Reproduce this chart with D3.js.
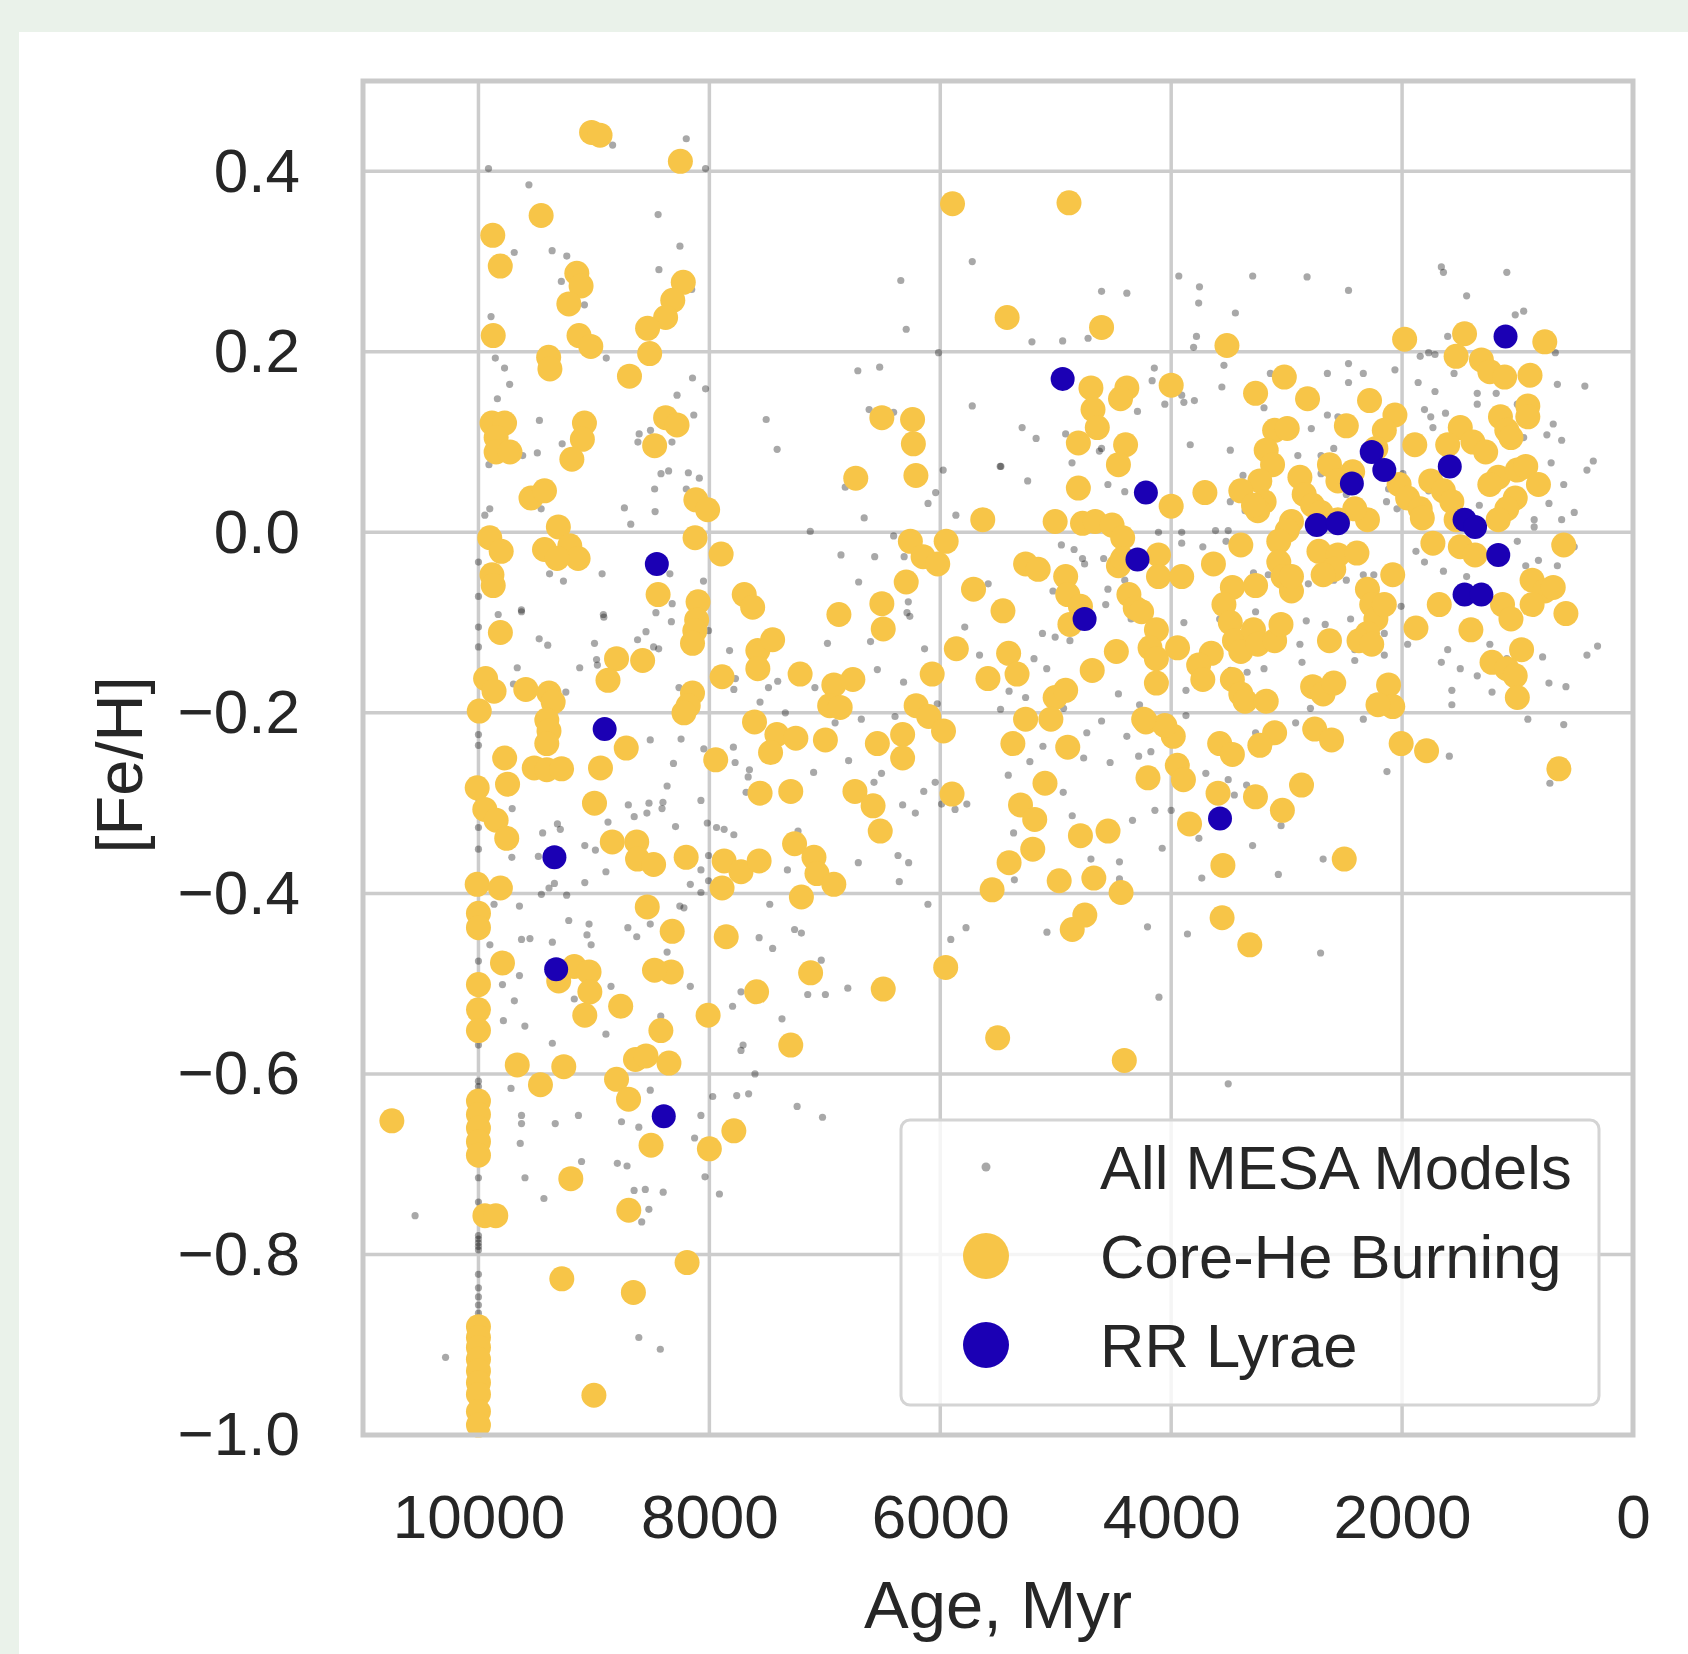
<!DOCTYPE html>
<html>
<head>
<meta charset="utf-8">
<script src="https://cdn.jsdelivr.net/npm/d3@7/dist/d3.min.js"></script>
<style>
  html, body { margin: 0; padding: 0; background: #eaf2ea; }
  #chart svg { display: block; }
  text { font-family: "Liberation Sans", Arial, Helvetica, sans-serif; fill: #262626; }
</style>
</head>
<body>
<div id="chart"></div>
<script>
// [age (Myr), [Fe/H]]
var mesaModels = [
  [9913,0.403],[8033,0.403],[8838,0.429],[8200,0.436],[9563,0.385],[8444,0.352],[8255,0.317],[8437,0.291],
  [9690,0.310],[9362,0.312],[9235,0.306],[9282,0.278],[9082,0.252],[9891,0.239],[8153,0.269],
  [9854,0.193],[9774,0.182],[9730,0.164],[9836,0.148],[8893,0.193],[8146,0.171],[8033,0.159],[8280,0.152],[8135,0.130],
  [9472,0.124],[9275,0.098],[9490,0.088],[9617,0.085],[9909,0.075],[8608,0.109],[8510,0.113],[8619,0.100],[8324,0.100],
  [8419,0.065],[8353,0.068],[8182,0.066],[8087,0.060],[8474,0.048],[8200,0.048],[8736,0.027],[8470,0.023],[8681,0.009],
  [9902,0.026],[9945,0.019],[9457,0.026],[9384,-0.046],[9264,-0.054],[8929,-0.046],[8342,-0.046],[8051,-0.054],
  [9628,-0.086],[9829,-0.091],[8918,-0.091],[8463,-0.089],[7508,0.125],[7413,0.092],[6714,0.179],[6525,0.183],
  [6616,0.136],[6404,0.133],[6342,0.279],[6295,0.225],[5723,0.300],[5723,0.140],[6015,0.199],
  [5975,0.069],[6040,0.044],[6106,0.032],[5865,0.019],[5475,0.073],[6659,0.016],[6823,0.050],[7126,0.001],
  [6860,-0.025],[6568,-0.027],[6707,-0.055],[6404,-0.004],[6313,-0.027],[6277,-0.077],[5585,-0.057],[6288,-0.089],
  [9627,-0.088],[8914,-0.094],[8322,-0.079],[8329,-0.099],[9474,-0.118],[9400,-0.125],[8995,-0.123],
  [8977,-0.141],[8970,-0.147],[9123,-0.150],[9664,-0.150],[8549,-0.110],[8622,-0.119],[8483,-0.127],[8439,-0.129],
  [8007,-0.109],[7825,-0.131],[7774,-0.162],[7788,-0.174],[6977,-0.123],[6604,-0.121],
  [6545,-0.152],[6318,-0.166],[6136,-0.129],[6264,-0.093],[5660,-0.136],[5788,-0.105],[6026,-0.190],[6392,-0.204],
  [5478,-0.196],[5404,-0.176],[9697,-0.168],[9243,-0.177],[8263,-0.172],
  [7488,-0.172],[7408,-0.165],[7561,-0.188],[7342,-0.200],[7086,-0.172],[6684,-0.207],[6911,-0.211],
  [8512,-0.230],[8245,-0.229],[8311,-0.256],[8048,-0.240],[7792,-0.238],[7777,-0.255],
  [7653,-0.263],[7664,-0.271],[7682,-0.288],[6794,-0.253],[7097,-0.266],[6509,-0.267],[6574,-0.277],
  [6143,-0.287],[6044,-0.277],[6326,-0.302],[6216,-0.311],[5989,-0.301],[5872,-0.307],[5770,-0.301],
  [8366,-0.281],[8523,-0.300],[8702,-0.302],[8878,-0.321],[8651,-0.315],[8541,-0.311],[8402,-0.299],[8410,-0.306],
  [9708,-0.306],[9444,-0.333],[9316,-0.323],[9291,-0.329],[9079,-0.347],[8987,-0.352],[8896,-0.376],
  [9711,-0.360],[9481,-0.359],[8293,-0.326],[8073,-0.297],[8018,-0.322],[7938,-0.327],[7872,-0.329],[7788,-0.335],
  [8073,-0.374],[8165,-0.390],[8073,-0.399],[8007,-0.358],[8007,-0.386],
  [7232,-0.331],[7324,-0.374],[6710,-0.366],[6366,-0.358],[6274,-0.366],[6355,-0.387],
  [9079,-0.388],[9342,-0.389],[9389,-0.394],[9455,-0.401],[9236,-0.402],[9865,-0.412],[9645,-0.414],
  [9218,-0.430],[9042,-0.434],[8706,-0.438],[8629,-0.448],[8512,-0.434],[8256,-0.414],[8220,-0.416],[8366,-0.465],
  [7477,-0.412],[7569,-0.449],[7452,-0.461],[7262,-0.440],[7203,-0.444],[6107,-0.412],[5777,-0.438],[5909,-0.451],
  [9901,-0.457],[9627,-0.451],[9554,-0.450],[9360,-0.454],[9060,-0.446],[9024,-0.457],
  [8165,-0.503],[7843,-0.455],[7031,-0.474],[7148,-0.512],[6995,-0.512],[6801,-0.505],[7726,-0.509],
  [9645,-0.491],[9792,-0.501],[9689,-0.519],[9784,-0.541],[9598,-0.547],
  [8852,-0.503],[9170,-0.517],[8896,-0.556],[9360,-0.566],[8841,-0.525],
  [8421,-0.536],[7799,-0.525],[7371,-0.539],[7708,-0.568],[7726,-0.574],
  [7605,-0.600],[7763,-0.624],[7660,-0.622],[7240,-0.636],[7020,-0.648],
  [7971,-0.625],[9718,-0.616],[9627,-0.646],[9627,-0.655],[9335,-0.655],[9134,-0.646],[8761,-0.653],[8611,-0.659],
  [8512,-0.618],[8073,-0.646],[8128,-0.671],[9638,-0.677],
  [10549,-0.757],[10285,-0.914],[9597,-0.715],[9433,-0.738],[8038,-0.714],[7913,-0.733],[8652,-0.729],[8555,-0.728],
  [8400,-0.731],[8524,-0.750],[8586,-0.764],[8611,-0.892],[8425,-0.905],[9107,-0.697],[8797,-0.699],[8713,-0.702],
  [4603,0.267],[4384,0.265],[5206,0.211],[4940,0.212],[4720,0.215],
  [3934,0.284],[3755,0.272],[3762,0.254],[3444,0.243],[3781,0.217],[3806,0.205],
  [3294,0.284],[2823,0.283],[2464,0.268],[1660,0.294],[1642,0.288],[1441,0.262],[1093,0.288],
  [1020,0.241],[947,0.245],[1605,0.217],[1715,0.197],[1770,0.199],[1843,0.195],[673,0.199],
  [4146,0.182],[4165,0.168],[3543,0.185],[3561,0.161],[3890,0.144],[3799,0.146],
  [3141,0.176],[2647,0.176],[2464,0.187],[2336,0.176],[2464,0.166],[2062,0.180],
  [1861,0.166],[1550,0.176],[1715,0.156],[1349,0.154],[1185,0.154],[1148,0.128],
  [655,0.164],[417,0.162],[691,0.120],[746,0.108],[618,0.102],[709,0.077],[344,0.079],[399,0.069],
  [1806,0.136],[1752,0.128],[1624,0.132],[1733,0.116],[1349,0.142],[1002,0.142],[947,0.105],
  [5291,0.116],[5170,0.104],[4603,0.093],[4914,0.109],[4292,0.134],[4055,0.142],[3909,0.152],
  [3835,0.097],[3488,0.091],[3196,0.138],[2786,0.115],[2647,0.130],[2556,0.128],
  [5481,0.073],[5243,0.057],[4622,0.090],[4548,0.053],[4402,0.045],[4859,0.077],
  [3378,0.063],[3488,0.034],[3360,0.024],[3141,0.038],[2903,0.085],[2702,0.085],[2592,0.093],[2702,0.065],[2483,0.042],[2373,0.073],
  [1993,0.065],[2117,0.048],[2135,0.034],[2044,0.026],[1770,0.046],[1331,0.030],[1203,0.022],[1039,0.030],
  [856,0.014],[728,0.032],[600,0.053],[618,0.014],[509,0.022],[856,0.006],
  [4110,0.000],[3909,0.000],[3616,0.002],[3506,0.002],
  [4951,-0.014],[4841,-0.019],[4768,-0.029],[4585,-0.029],[4750,-0.035],
  [5024,-0.065],[4877,-0.045],[4548,-0.063],[4402,-0.053],
  [3909,-0.012],[3726,-0.016],[3525,-0.010],[3287,-0.045],[3159,-0.047],[2922,-0.045],[2812,-0.057],
  [2592,-0.053],[2483,-0.053],[2336,-0.047],[2245,-0.047],
  [1880,-0.021],[1806,-0.033],[1642,-0.043],[1441,-0.049],[1240,-0.025],[1002,-0.010],[929,-0.037],
  [819,-0.031],[655,-0.037],[636,-0.010],[509,-0.016],
  [2008,-0.082],[2227,-0.108],[2154,-0.112],[2446,-0.096],[2830,-0.098],[3269,-0.088],[3580,-0.096],
  [3890,-0.100],[4347,-0.096],[4567,-0.080],[4750,-0.080],
  [5115,-0.112],[5005,-0.116],[4877,-0.120],[5188,-0.140],[5078,-0.151],
  [4640,-0.151],[4457,-0.179],[4274,-0.191],[3872,-0.175],[3488,-0.153],[3342,-0.155],[3196,-0.151],
  [2885,-0.124],[2867,-0.144],[2666,-0.102],
  [2410,-0.130],[2410,-0.142],[2154,-0.136],[1952,-0.124],[1605,-0.130],[1660,-0.144],[1496,-0.151],
  [1349,-0.159],[1240,-0.124],[1093,-0.140],[783,-0.138],[728,-0.167],[399,-0.136],[307,-0.126],
  [1569,-0.175],[1221,-0.177],[1569,-0.191],[911,-0.207],[600,-0.213],[581,-0.171],
  [5261,-0.183],[4932,-0.195],[4731,-0.222],[4603,-0.209],[4384,-0.226],[4183,-0.218],[3872,-0.203],
  [3269,-0.222],[2922,-0.211],[2794,-0.195],[2336,-0.207],
  [5111,-0.237],[5224,-0.254],[4758,-0.250],[4529,-0.255],[4282,-0.248],[4176,-0.243],
  [5411,-0.269],[4935,-0.288],[4857,-0.314],[4335,-0.319],[4141,-0.308],[4000,-0.308],
  [3700,-0.267],[3506,-0.274],[3453,-0.291],[3347,-0.280],
  [5365,-0.333],[4695,-0.362],[4448,-0.365],[4448,-0.384],[5358,-0.385],[4078,-0.350],[3760,-0.339],
  [3735,-0.383],[3295,-0.347],[3048,-0.325],[3072,-0.379],[2684,-0.362],
  [1591,-0.248],[2131,-0.265],[720,-0.278],
  [5076,-0.443],[4205,-0.437],[3859,-0.445],[2706,-0.466],[4106,-0.515],[3506,-0.611],
  [10000,-0.033],[10000,-0.071],[10000,-0.105],[10000,-0.127],[10000,-0.224],[10000,-0.236],[10000,-0.295],
  [10000,-0.327],[10000,-0.351],[10000,-0.475],[10000,-0.568],[10000,-0.608],[10000,-0.614],[10000,-0.620],
  [10000,-0.715],[10000,-0.742],[10000,-0.779],[10000,-0.783],[10000,-0.787],[10000,-0.791],[10000,-0.795],
  [10000,-0.822],[10000,-0.837],[10000,-0.847],[10000,-0.856],[10000,-0.865]
];

var coreHeBurning = [
  [9020,0.443],[8947,0.440],[8251,0.411],[5894,0.364],[9457,0.351],[9876,0.329],[9811,0.295],
  [9148,0.287],[9111,0.273],[9217,0.253],[8226,0.277],[8317,0.257],[8379,0.238],[8535,0.226],
  [9872,0.218],[9129,0.218],[9027,0.206],[8517,0.198],[9392,0.194],[9381,0.181],[8692,0.173],
  [5421,0.238],[6506,0.127],[6240,0.125],[6233,0.098],[6211,0.063],[6732,0.060],[5632,0.014],
  [8379,0.127],[8280,0.119],[8474,0.096],[9883,0.121],[9774,0.121],[9847,0.105],[9847,0.089],[9727,0.089],
  [9082,0.121],[9100,0.103],[9191,0.081],[9545,0.038],[9428,0.046],[8117,0.036],[8015,0.025],
  [9308,0.006],[9902,-0.006],[9803,-0.021],[9428,-0.019],[9209,-0.015],[9137,-0.029],[9319,-0.029],
  [9883,-0.047],[9872,-0.059],[8124,-0.006],[7898,-0.024],[8444,-0.069],[8098,-0.077],[7698,-0.069],[7625,-0.083],
  [6878,-0.091],[6506,-0.079],[6259,-0.010],[6149,-0.027],[6022,-0.035],[5949,-0.010],[6295,-0.055],[5712,-0.063],[5457,-0.087],
  [9810,-0.111],[8110,-0.097],[8126,-0.109],[8146,-0.123],[6494,-0.107],[5861,-0.129],[5587,-0.162],
  [8804,-0.140],[8878,-0.164],[8578,-0.142],
  [7580,-0.131],[7452,-0.119],[7580,-0.151],[7890,-0.160],[7214,-0.157],[6922,-0.169],[6757,-0.163],[6958,-0.192],[6867,-0.194],
  [6070,-0.157],[6209,-0.192],[6100,-0.204],[5972,-0.220],
  [9938,-0.162],[9865,-0.176],[9993,-0.198],[9590,-0.174],[9389,-0.178],[9353,-0.188],
  [8146,-0.178],[8183,-0.192],[8220,-0.200],
  [9408,-0.208],[9389,-0.220],[9408,-0.234],[9773,-0.250],[9517,-0.261],[9408,-0.263],[9280,-0.262],[8943,-0.261],
  [8720,-0.239],[7945,-0.252],[7609,-0.210],[7415,-0.224],[7251,-0.228],[7470,-0.244],[6995,-0.230],[6545,-0.234],
  [6326,-0.224],[6326,-0.250],
  [10011,-0.283],[9748,-0.279],[9945,-0.307],[9847,-0.319],[9755,-0.339],[8995,-0.300],[7561,-0.289],[7295,-0.287],
  [6739,-0.287],[6582,-0.303],[6520,-0.331],[5898,-0.290],[5404,-0.366],
  [8841,-0.343],[8629,-0.343],[8622,-0.362],[8483,-0.368],[8201,-0.360],[7872,-0.364],[7726,-0.376],[7569,-0.364],
  [7262,-0.345],[7094,-0.360],[7068,-0.378],[6922,-0.390],
  [10011,-0.390],[9810,-0.394],[10000,-0.422],[10000,-0.438],[7890,-0.394],[7203,-0.404],[5551,-0.396],
  [8538,-0.415],[8322,-0.442],[7854,-0.448],[9792,-0.477],
  [10000,-0.501],[10000,-0.529],[10000,-0.552],
  [9305,-0.497],[9170,-0.481],[9042,-0.487],[9035,-0.509],[9079,-0.535],[8768,-0.525],[9664,-0.590],[9463,-0.612],
  [9261,-0.592],[8804,-0.606],[8700,-0.628],[8640,-0.584],[8549,-0.580],[8350,-0.588],[8420,-0.552],[8330,-0.487],
  [8475,-0.485],[8011,-0.535],[7788,-0.663],[8505,-0.679],[8000,-0.683],[10750,-0.652],[7591,-0.509],[7123,-0.488],
  [7295,-0.568],[6494,-0.506],[5953,-0.482],[5503,-0.560],
  [10000,-0.630],[10000,-0.645],[10000,-0.660],[10000,-0.675],[10000,-0.690],
  [9944,-0.757],[9850,-0.757],[9200,-0.716],[8698,-0.751],[9278,-0.827],[8658,-0.842],[8193,-0.809],[9000,-0.956],
  [10000,-0.880],[10000,-0.892],[10000,-0.903],[10000,-0.916],[10000,-0.929],[10000,-0.942],[10000,-0.955],
  [10000,-0.974],[10000,-0.989],
  [4885,0.365],[4603,0.227],[3517,0.207],[1978,0.214],[1459,0.220],[764,0.211],
  [4695,0.160],[4677,0.136],[4640,0.116],[4384,0.160],[4439,0.148],[4000,0.163],[4804,0.099],[4395,0.097],[4457,0.075],[4804,0.049],
  [3269,0.154],[3020,0.172],[2819,0.148],[2282,0.146],[2483,0.118],
  [3104,0.113],[2995,0.115],[3177,0.091],[3122,0.075],[3232,0.057],[3195,0.034],[3250,0.024],
  [2062,0.130],[2154,0.113],[2227,0.093],[1890,0.097],
  [1496,0.116],[1386,0.100],[1276,0.089],[1605,0.097],
  [1313,0.191],[1240,0.178],[1112,0.172],[1532,0.195],[892,0.174],[911,0.140],[911,0.128],
  [1148,0.128],[1093,0.113],[1057,0.105],
  [2629,0.075],[2556,0.057],[2428,0.067],
  [2885,0.061],[2848,0.042],[2775,0.030],[3397,0.046],[3287,0.030],[3708,0.044],[4000,0.029],
  [5005,0.012],[4768,0.010],[4658,0.012],[4512,0.008],[4420,-0.006],
  [2026,0.053],[1952,0.038],[1843,0.026],[1752,0.057],[1642,0.046],[1569,0.034],[1532,0.014],
  [1167,0.061],[1002,0.069],[929,0.073],[819,0.053],[1240,0.053],[1020,0.038],[1093,0.026],[1167,0.014],
  [2958,0.012],[2995,0.002],[2702,0.022],[2556,0.014],[2300,0.014],[2410,0.026],[1825,0.016],
  [5261,-0.035],[5152,-0.041],[4914,-0.049],[4896,-0.069],[4786,-0.082],[4877,-0.102],
  [5408,-0.134],[5335,-0.157],[5005,-0.183],[5042,-0.207],[4914,-0.175],[5261,-0.207],[4475,-0.132],[4684,-0.153],
  [4457,-0.037],[4420,-0.029],[4110,-0.025],[4110,-0.049],[3909,-0.049],[4366,-0.069],[4311,-0.084],[4256,-0.088],
  [4128,-0.108],[4183,-0.128],[4128,-0.140],[3945,-0.128],[4128,-0.167],[4219,-0.210],[3982,-0.226],[4055,-0.214],
  [3634,-0.035],[3397,-0.014],[3068,-0.010],[3068,-0.033],[3031,-0.049],[2958,-0.065],[2958,-0.049],
  [3470,-0.061],[3543,-0.080],[3488,-0.100],[3452,-0.120],[3397,-0.132],[3269,-0.059],[3287,-0.108],[3250,-0.124],
  [3104,-0.120],[3049,-0.102],
  [3653,-0.134],[3762,-0.147],[3726,-0.163],[3470,-0.163],[3397,-0.179],[3360,-0.187],[3177,-0.187],
  [2720,-0.021],[2556,-0.025],[2592,-0.041],[2684,-0.047],[2391,-0.023],[2081,-0.047],[1733,-0.012],[1496,-0.016],[1368,-0.025],
  [2300,-0.063],[2263,-0.080],[2227,-0.096],[2300,-0.112],[2373,-0.120],[2263,-0.124],[2154,-0.080],[2629,-0.120],
  [1880,-0.106],[1678,-0.080],[1404,-0.108],[1130,-0.080],[1057,-0.096],
  [874,-0.053],[764,-0.065],[691,-0.061],[874,-0.080],[581,-0.090],[600,-0.014],[965,-0.130],[1221,-0.144],
  [1093,-0.151],[1020,-0.159],[1002,-0.183],
  [2117,-0.169],[2081,-0.193],[2209,-0.191],[2775,-0.171],[2684,-0.179],[2592,-0.167],
  [3104,-0.222],[2757,-0.218],[2611,-0.230],[3232,-0.236],[3580,-0.234],[3470,-0.246],[4238,-0.207],[2008,-0.234],
  [1788,-0.242],[5371,-0.234],[4896,-0.238],
  [3947,-0.258],[3894,-0.274],[642,-0.262],[5093,-0.278],[4201,-0.272],[5305,-0.302],[5182,-0.318],[5199,-0.351],
  [4786,-0.336],[4547,-0.331],[4970,-0.386],[4670,-0.383],[4434,-0.399],[3594,-0.289],[3841,-0.323],[3270,-0.293],
  [3037,-0.308],[2871,-0.280],[3552,-0.369],[2501,-0.362],[3559,-0.427],[3319,-0.457],[4748,-0.424],[4857,-0.440],
  [4406,-0.585]
];

var rrLyrae = [
  [1104,0.217],[4940,0.170],[2263,0.089],[2154,0.069],[2435,0.054],[1587,0.073],[4219,0.044],
  [2739,0.008],[2556,0.010],[1459,0.014],[1368,0.006],[1167,-0.025],[1459,-0.069],[1313,-0.069],
  [4292,-0.030],[4750,-0.096],[8455,-0.035],[8907,-0.218],[9342,-0.360],[9327,-0.484],[8395,-0.647],[3577,-0.317]
];

var xTicks = [10000, 8000, 6000, 4000, 2000, 0];
var yTicks = [0.4, 0.2, 0.0, -0.2, -0.4, -0.6, -0.8, -1.0];
var seriesNames = ["All MESA Models", "Core-He Burning", "RR Lyrae"];
var seriesColors = ["rgba(0,0,0,0.34)", "#f7c548", "#1b00b4"];

var outerWidth = 1688;
var outerHeight = 1654;
var margin = { left: 363, top: 81, right: 55, bottom: 219 };

var innerWidth  = outerWidth  - margin.left - margin.right;
var innerHeight = outerHeight - margin.top  - margin.bottom;

var svg = d3.select("#chart").append("svg")
    .attr("width",  outerWidth)
    .attr("height", outerHeight);

// white panel on the pale green page
svg.append("rect")
    .attr("x", 19).attr("y", 32)
    .attr("width", outerWidth - 19).attr("height", outerHeight - 32)
    .attr("fill", "#ffffff");

var g = svg.append("g")
    .attr("transform", "translate(" + margin.left + "," + margin.top + ")");

var xScale = d3.scaleLinear().domain([11000, 0]).range([0, innerWidth]);
var yScale = d3.scaleLinear().domain([-1.0, 0.5]).range([innerHeight, 0]);

// grid
var gridG = g.append("g").attr("class", "grid");
gridG.selectAll("line.vx").data(xTicks).enter().append("line")
    .attr("x1", function (d) { return xScale(d); })
    .attr("x2", function (d) { return xScale(d); })
    .attr("y1", 0).attr("y2", innerHeight)
    .attr("stroke", "#cccccc").attr("stroke-width", 3.5);
gridG.selectAll("line.hy").data(yTicks).enter().append("line")
    .attr("y1", function (d) { return yScale(d); })
    .attr("y2", function (d) { return yScale(d); })
    .attr("x1", 0).attr("x2", innerWidth)
    .attr("stroke", "#cccccc").attr("stroke-width", 3.5);

// points
var pointsG = g.append("g");
pointsG.selectAll("circle.mesa").data(mesaModels).enter().append("circle")
    .attr("cx", function (d) { return xScale(d[0]); })
    .attr("cy", function (d) { return yScale(d[1]); })
    .attr("r", 3.6)
    .attr("fill", seriesColors[0]);

pointsG.selectAll("circle.he").data(coreHeBurning).enter().append("circle")
    .attr("cx", function (d) { return xScale(d[0]); })
    .attr("cy", function (d) { return yScale(d[1]); })
    .attr("r", 12.5)
    .attr("fill", seriesColors[1]);

pointsG.selectAll("circle.rr").data(rrLyrae).enter().append("circle")
    .attr("cx", function (d) { return xScale(d[0]); })
    .attr("cy", function (d) { return yScale(d[1]); })
    .attr("r", 12)
    .attr("fill", seriesColors[2]);

// frame
g.append("rect")
    .attr("x", 0).attr("y", 0)
    .attr("width", innerWidth).attr("height", innerHeight)
    .attr("fill", "none")
    .attr("stroke", "#c9c9c9").attr("stroke-width", 5);

// axes (labels only)
var xAxis = d3.axisBottom(xScale).tickValues(xTicks).tickSize(0).tickPadding(59)
    .tickFormat(d3.format("d"));
var yAxis = d3.axisLeft(yScale).tickValues(yTicks).tickSize(0).tickPadding(63)
    .tickFormat(d3.format(".1f"));

var xAxisG = g.append("g").attr("transform", "translate(0," + innerHeight + ")").call(xAxis);
var yAxisG = g.append("g").call(yAxis);
[xAxisG, yAxisG].forEach(function (a) {
    a.select(".domain").remove();
    a.selectAll("text")
        .attr("fill", "#262626")
        .style("font-size", "62px")
        .style("font-family", "'Liberation Sans', Arial, sans-serif");
});

g.append("text")
    .attr("x", innerWidth / 2).attr("y", 1628 - margin.top)
    .attr("text-anchor", "middle")
    .style("font-size", "67px")
    .text("Age, Myr");

g.append("text")
    .attr("transform", "translate(" + (142 - margin.left) + "," + (765 - margin.top) + ") rotate(-90)")
    .attr("text-anchor", "middle")
    .style("font-size", "65px")
    .text("[Fe/H]");

// legend
var legendG = svg.append("g").attr("transform", "translate(901,1120)");
legendG.append("rect")
    .attr("width", 698).attr("height", 285)
    .attr("rx", 9).attr("ry", 9)
    .attr("fill", "rgba(255,255,255,0.8)")
    .attr("stroke", "#d4d4d4").attr("stroke-width", 3);

var legendRadius = [4.5, 23, 23];
var rows = legendG.selectAll("g.row").data(seriesNames).enter().append("g")
    .attr("transform", function (d, i) { return "translate(0," + (47 + i * 89) + ")"; });
rows.append("circle")
    .attr("cx", 85).attr("cy", 0)
    .attr("r", function (d, i) { return legendRadius[i]; })
    .attr("fill", function (d, i) { return seriesColors[i]; });
rows.append("text")
    .attr("x", 199).attr("y", 0).attr("dy", "0.36em")
    .style("font-size", "61.5px")
    .text(function (d) { return d; });
</script>
</body>
</html>
